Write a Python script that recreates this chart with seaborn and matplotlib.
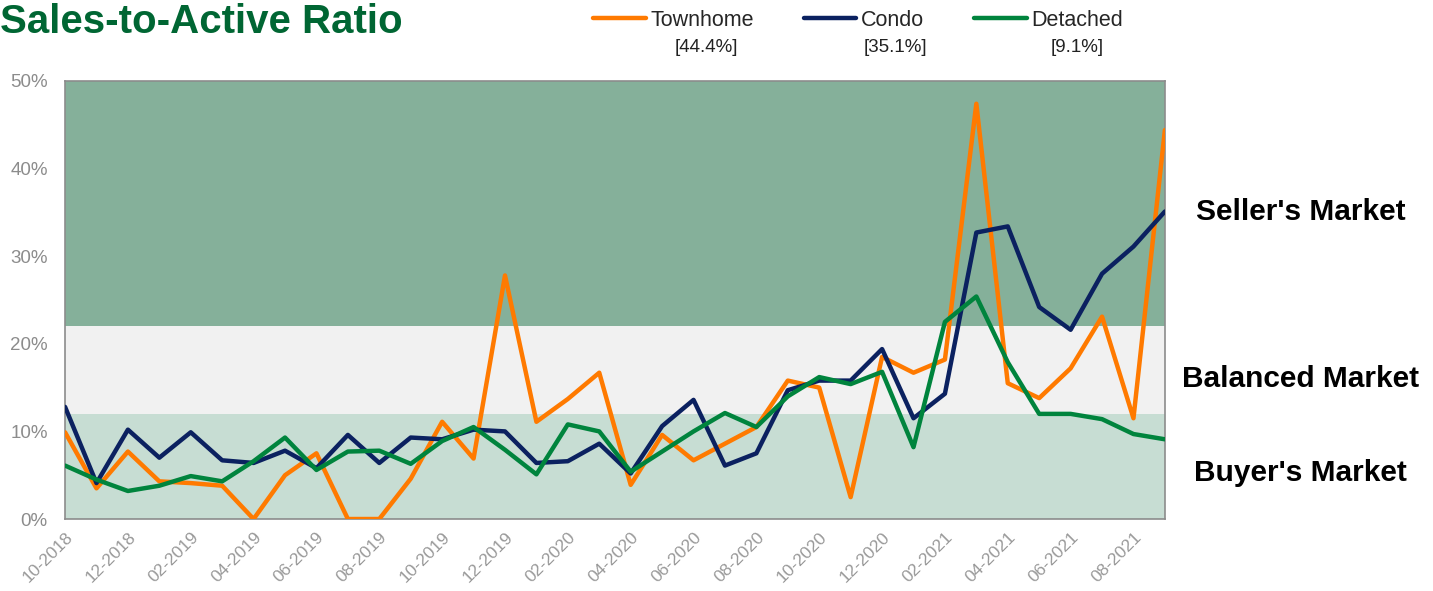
import pandas as pd
import seaborn as sns
import matplotlib.pyplot as plt

# monthly data, 10-2018 .. 09-2021
months = pd.date_range('2018-10-01', periods=36, freq='MS').strftime('%m-%Y')

townhome = [9.9, 3.5, 7.7, 4.3, 4.1, 3.8, 0.0, 5.0, 7.5, 0.0, 0.0, 4.6,
            11.1, 6.9, 27.8, 11.1, 13.7, 16.7, 3.9, 9.6, 6.7, 8.6, 10.5, 15.8,
            15.0, 2.5, 18.5, 16.7, 18.2, 47.4, 15.5, 13.8, 17.2, 23.1, 11.5, 44.4]
condo = [12.8, 4.1, 10.2, 7.0, 9.9, 6.7, 6.4, 7.8, 5.8, 9.6, 6.4, 9.3,
         9.1, 10.2, 10.0, 6.4, 6.6, 8.6, 5.2, 10.6, 13.6, 6.1, 7.5, 14.7,
         15.8, 15.8, 19.4, 11.5, 14.3, 32.7, 33.4, 24.2, 21.6, 28.0, 31.1, 35.1]
detached = [6.1, 4.5, 3.2, 3.8, 4.9, 4.3, 6.6, 9.3, 5.6, 7.7, 7.8, 6.3,
            8.9, 10.5, 7.9, 5.1, 10.8, 10.0, 5.4, 7.7, 10.0, 12.1, 10.5, 14.0,
            16.2, 15.4, 16.8, 8.2, 22.5, 25.4, 17.9, 12.0, 12.0, 11.4, 9.7, 9.1]

series = {'Townhome': townhome, 'Condo': condo, 'Detached': detached}
colors = {'Townhome': '#FF7A00', 'Condo': '#0B2160', 'Detached': '#00843D'}

# market bands (%)
bands = [(0, 12, '#C7DDD3', "Buyer's Market"),
         (12, 22, '#F1F1F1', "Balanced Market"),
         (22, 50, '#85B09A', "Seller's Market")]

df = pd.DataFrame(series)
df['x'] = range(len(months))
long = df.melt(id_vars='x', var_name='type', value_name='ratio')

sns.set_style('white')
plt.rcParams['font.family'] = ['Liberation Sans', 'DejaVu Sans']

fig = plt.figure(figsize=(14.33, 5.91), dpi=100)
ax = fig.add_axes([0.0454, 0.1218, 0.7675, 0.7412])

for lo, hi, c, _ in bands:
    ax.axhspan(lo, hi, color=c, zorder=0, lw=0)

sns.lineplot(data=long, x='x', y='ratio', hue='type', palette=colors,
             lw=3.2, ax=ax, legend=False, zorder=3)

ax.set_xlim(0, len(months) - 1)
ax.set_ylim(0, 50)
ax.set_yticks(range(0, 51, 10))
ax.set_yticklabels([f'{v}%' for v in range(0, 51, 10)], color='#8C8C8C', fontsize=13.5)
ax.set_xticks(range(0, len(months), 2))
ax.set_xticklabels(months[::2], rotation=45, ha='right', rotation_mode='anchor',
                   color='#999999', fontsize=12.5)
ax.tick_params(axis='both', length=4.5, color='#8C8C8C', width=1)
ax.tick_params(axis='y', pad=8)
ax.tick_params(axis='x', pad=3)
ax.set_xlabel('')
ax.set_ylabel('')
for s in ax.spines.values():
    s.set_color('#8C8C8C')
    s.set_linewidth(1.2)

# band labels on the right
band_y = {"Seller's Market": 35, "Balanced Market": 16.0, "Buyer's Market": 5.3}
for lo, hi, c, name in bands:
    ax.text(1.1236, band_y[name], name, transform=ax.get_yaxis_transform(),
            ha='center', va='center', fontsize=21.5, fontweight='bold',
            color='black')

fig.text(0.0, 0.963, 'Sales-to-Active Ratio', ha='left', va='center',
         fontsize=29, fontweight='bold', color='#006633')

# legend with last values
handles = [plt.Line2D([], [], color=colors[k], lw=3.2) for k in series]
fig.legend(handles, list(series), loc='center left', bbox_to_anchor=(0.414, 0.966),
           ncol=3, frameon=False, fontsize=15.5, handlelength=2.45, handletextpad=0.22,
           columnspacing=2.3, borderaxespad=0, borderpad=0)
last_x = {'Townhome': 0.493, 'Condo': 0.625, 'Detached': 0.752}
for k, v in series.items():
    fig.text(last_x[k], 0.919, f'[{v[-1]:.1f}%]', ha='center', va='center',
             fontsize=13.5, color='#222222')

fig.savefig('out.png', dpi=100)
